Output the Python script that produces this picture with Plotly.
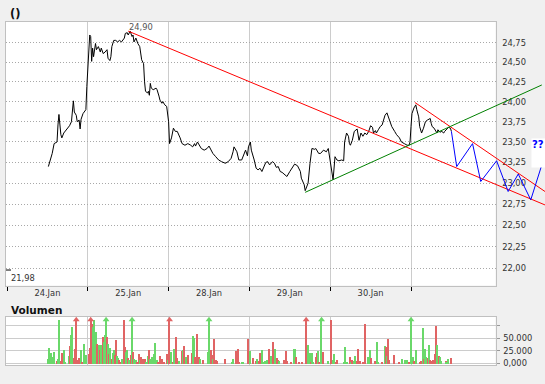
import math
import plotly.graph_objects as go

# ---------------- data ----------------
# time axis: 10-minute interval index, 84 intervals per trading day (08:00-22:00)
DAYS = ["24.Jan", "25.Jan", "28.Jan", "29.Jan", "30.Jan"]
PER_DAY = 84

price_t = [
    43, 45, 47, 49, 51, 52, 53, 54, 56, 57,
    59, 62, 65, 67, 68, 69, 70, 72, 73, 75,
    76, 77, 79, 82, 83, 84, 85, 86, 87, 88,
    89, 90, 92, 93, 95, 97, 98, 100, 102, 104,
    105, 107, 108, 109, 111, 113, 115, 117, 119, 122,
    123, 125, 126, 128, 130, 131, 132, 134, 136, 138,
    140, 142, 143, 144, 146, 147, 148, 149, 150, 152,
    155, 156, 158, 159, 161, 162, 164, 166, 168, 169,
    171, 173, 175, 177, 180, 182, 185, 188, 191, 193,
    195, 196, 198, 200, 202, 205, 208, 210, 212, 214,
    217, 220, 223, 227, 230, 233, 235, 236, 239, 241,
    244, 246, 248, 250, 251, 253, 254, 257, 259, 261,
    263, 265, 267, 269, 271, 273, 276, 278, 280, 282,
    284, 286, 289, 291, 294, 297, 299, 302, 305, 306,
    309, 310, 313, 315, 317, 320, 321, 324, 326, 329,
    332, 334, 336, 338, 339, 341, 343, 345, 348, 350,
    351, 353, 355, 356, 357, 359, 361, 364, 365, 366,
    368, 370, 372, 374, 376, 378, 380, 381, 383, 384,
    386, 388, 390, 392, 393, 395, 396, 398, 400, 403,
    405, 408, 410, 413, 416, 418, 419, 420, 421, 423,
    425, 426, 428, 429, 431, 433, 435, 437, 440, 441,
    442, 444, 446, 447, 448, 450, 452, 454, 455, 457,
    459, 461, 462,
]
price_v = [
    23.20, 23.28, 23.36, 23.48, 23.50, 23.50, 23.71, 23.84, 23.59, 23.55,
    23.61, 23.65, 23.70, 23.75, 23.94, 24.01, 23.87, 23.83, 23.75, 23.77,
    23.66, 23.78, 23.85, 23.90, 24.19, 24.40, 24.61, 24.85, 24.83, 24.51,
    24.68, 24.57, 24.74, 24.66, 24.70, 24.63, 24.68, 24.61, 24.63, 24.66,
    24.55, 24.52, 24.57, 24.70, 24.78, 24.78, 24.76, 24.78, 24.76, 24.81,
    24.87, 24.88, 24.85, 24.90, 24.83, 24.85, 24.76, 24.81, 24.74, 24.70,
    24.53, 24.48, 24.25, 24.13, 24.11, 24.13, 24.08, 24.23, 24.17, 24.15,
    24.17, 24.15, 24.07, 24.02, 23.98, 24.00, 23.96, 23.94, 23.75, 23.48,
    23.55, 23.67, 23.63, 23.63, 23.55, 23.48, 23.46, 23.48, 23.46, 23.44,
    23.48, 23.45, 23.50, 23.46, 23.42, 23.40, 23.42, 23.45, 23.40, 23.36,
    23.32, 23.28, 23.26, 23.24, 23.26, 23.30, 23.38, 23.44, 23.38, 23.28,
    23.28, 23.34, 23.40, 23.33, 23.44, 23.50, 23.40, 23.28, 23.18, 23.16,
    23.18, 23.14, 23.20, 23.25, 23.26, 23.22, 23.26, 23.24, 23.19, 23.20,
    23.14, 23.13, 23.10, 23.08, 23.14, 23.20, 23.23, 23.21, 23.14, 23.06,
    22.98, 22.91, 23.00, 23.24, 23.42, 23.41, 23.42, 23.36, 23.36, 23.40,
    23.38, 23.42, 23.26, 23.07, 23.04, 23.32, 23.28, 23.27, 23.28, 23.27,
    23.50, 23.61, 23.57, 23.48, 23.46, 23.52, 23.63, 23.66, 23.59, 23.52,
    23.61, 23.57, 23.61, 23.59, 23.63, 23.70, 23.68, 23.61, 23.64, 23.61,
    23.65, 23.69, 23.71, 23.79, 23.83, 23.86, 23.83, 23.75, 23.69, 23.63,
    23.59, 23.55, 23.50, 23.48, 23.46, 23.46, 23.50, 23.69, 23.85, 23.92,
    23.96, 23.90, 23.81, 23.69, 23.61, 23.67, 23.75, 23.77, 23.79, 23.73,
    23.69, 23.67, 23.63, 23.61, 23.65, 23.62, 23.63, 23.61, 23.63, 23.65,
    23.68, 23.67, 23.63,
]

# projected zig-zag (blue)
proj_t = [462, 467.5, 484, 492.5, 509, 521, 531.5, 544.5, 556]
proj_v = [23.63, 23.20, 23.48, 23.02, 23.27, 22.90, 23.11, 22.80, 23.22]

# trend lines
res_main_t = [126, 559.3]
res_main_v = [24.90, 22.74]
res_short_t = [424, 559.3]
res_short_v = [23.99, 22.90]
sup_t = [310, 556]
sup_v = [22.89, 24.21]

MIN_MARK = 21.98

# volume (shares), up = 1 green / 0 red
vol_t = [
    43, 44, 45, 46, 47, 49, 52, 53, 54, 56,
    57, 59, 60, 65, 66, 67, 68, 70, 71, 72,
    73, 75, 76, 77, 78, 80, 82, 85, 86, 87,
    88, 90, 91, 92, 93, 94, 95, 96, 97, 98,
    100, 101, 102, 103, 104, 105, 106, 107, 109, 110,
    111, 112, 113, 115, 116, 117, 119, 120, 122, 123,
    124, 125, 126, 127, 129, 130, 131, 132, 134, 135,
    137, 138, 139, 141, 142, 144, 145, 147, 148, 149,
    151, 153, 154, 156, 157, 159, 161, 163, 166, 168,
    169, 171, 173, 174, 176, 177, 179, 182, 183, 184,
    186, 188, 192, 194, 195, 196, 198, 199, 200, 201,
    204, 209, 210, 212, 213, 214, 215, 217, 218, 227,
    234, 235, 238, 240, 241, 244, 245, 251, 253, 256,
    259, 260, 262, 263, 265, 266, 268, 270, 272, 275,
    277, 278, 279, 281, 282, 283, 288, 290, 291, 295,
    298, 299, 300, 301, 304, 307, 311, 313, 315, 316,
    317, 318, 321, 322, 323, 325, 327, 329, 334, 337,
    339, 340, 342, 343, 350, 352, 354, 357, 358, 359,
    361, 362, 364, 365, 367, 370, 372, 375, 377, 378,
    379, 383, 385, 386, 390, 393, 394, 395, 396, 397,
    402, 408, 411, 414, 416, 418, 420, 422, 423, 425,
    429, 431, 433, 434, 435, 436, 438, 439, 440, 442,
    443, 445, 446, 447, 449, 450, 451, 456, 457, 459,
    462,
]
vol_v = [
    10000, 31300, 16700, 21300, 13300, 23300, 5300, 10000, 88700, 5300,
    21300, 28000, 3300, 14700, 34700, 56700, 73300, 12000, 30000, 120000,
    6700, 12000, 6700, 26700, 3300, 38700, 16700, 20000, 32000, 120000,
    80000, 73300, 88700, 10000, 63300, 40000, 16700, 36700, 26700, 36700,
    53300, 43300, 56700, 120000, 53300, 40000, 20000, 32000, 10000, 21300,
    26700, 16700, 46700, 14700, 12000, 6700, 3300, 10000, 86700, 33300,
    23300, 26700, 12000, 8000, 16700, 120000, 23300, 10000, 6700, 3300,
    20000, 6700, 13300, 10000, 6700, 10000, 3300, 14700, 26700, 10000,
    13300, 20000, 41300, 6700, 3300, 14700, 10000, 3300, 20000, 6700,
    120000, 23300, 3300, 30000, 53300, 12000, 4700, 25300, 26700, 34700,
    13300, 18000, 21300, 54700, 51300, 13300, 58700, 8000, 13300, 10000,
    6700, 23300, 120000, 26700, 16700, 10000, 48700, 8000, 4700, 8700,
    3300, 8700, 25300, 28700, 3300, 3300, 3300, 48700, 25300, 11300,
    4700, 8700, 4700, 21300, 26700, 2700, 4700, 6700, 28700, 15300,
    43300, 16700, 28700, 11300, 6700, 4700, 6700, 25300, 4700, 3300,
    28700, 6700, 28700, 13300, 3300, 3300, 120000, 36700, 21300, 3300,
    21300, 3300, 13300, 21300, 25300, 3300, 120000, 23300, 4700, 92000,
    8000, 18700, 3300, 8000, 3300, 33300, 3300, 13300, 3300, 6700,
    4700, 14700, 4700, 30000, 4700, 3300, 78700, 13300, 26700, 13300,
    11300, 4700, 43300, 3300, 3300, 35300, 33300, 14700, 50000, 6700,
    16700, 3300, 10000, 8000, 6700, 3300, 120000, 13300, 4700, 26700,
    3300, 4700, 71300, 10000, 30000, 13300, 11300, 36700, 6700, 4700,
    8000, 20000, 75300, 36700, 14700, 13300, 4700, 4700, 3300, 8700,
    11300,
]
vol_up = [
    1, 1, 1, 1, 1, 1, 0, 1, 1, 0,
    0, 1, 1, 1, 0, 1, 1, 0, 0, 0,
    0, 0, 0, 1, 0, 1, 1, 0, 0, 0,
    0, 1, 1, 1, 1, 0, 0, 1, 0, 1,
    0, 1, 1, 1, 0, 1, 0, 1, 0, 1,
    1, 0, 0, 1, 1, 0, 0, 1, 0, 0,
    1, 1, 0, 1, 0, 1, 0, 1, 1, 0,
    0, 1, 0, 0, 0, 0, 1, 1, 0, 1,
    1, 1, 1, 1, 0, 0, 0, 0, 0, 1,
    0, 1, 0, 1, 0, 0, 1, 0, 1, 0,
    1, 0, 0, 1, 1, 0, 0, 0, 0, 1,
    0, 1, 1, 0, 0, 1, 0, 0, 0, 0,
    1, 1, 0, 0, 0, 1, 1, 0, 1, 0,
    0, 1, 0, 0, 1, 1, 1, 1, 0, 1,
    0, 0, 1, 0, 0, 1, 0, 0, 0, 0,
    1, 1, 1, 0, 0, 0, 0, 1, 1, 0,
    1, 1, 0, 0, 1, 0, 1, 0, 1, 0,
    1, 1, 0, 0, 1, 1, 1, 0, 1, 0,
    1, 1, 0, 0, 0, 0, 0, 1, 1, 1,
    0, 0, 1, 1, 0, 1, 0, 1, 0, 0,
    0, 0, 1, 1, 1, 0, 1, 1, 0, 1,
    0, 0, 1, 0, 1, 1, 0, 1, 0, 0,
    0, 0, 0, 1, 0, 1, 1, 0, 1, 1,
    0,
]

PRICE_TICKS = [22.00, 22.25, 22.50, 22.75, 23.00, 23.25, 23.50, 23.75, 24.00, 24.25, 24.50, 24.75]
VOL_TICKS = [0, 25000, 50000, 75000]
VOL_TICK_TEXT = ["0,000", "25.000", "50.000", ""]

# ---------------- layout geometry ----------------
W, H = 545, 384
FONT = "DejaVu Sans"
GREEN_BAR = "#6ad86a"
RED_BAR = "#e06464"
BORDER = "#c0c0c0"
VGRID = "#cccccc"

T_PER_PX = PER_DAY / 80.8
PX_LEFT, PX_RIGHT, PX_EXT = 6.0, 495.5, 545.0
PX_T0 = 7.0
t_lo = (PX_LEFT - PX_T0) * T_PER_PX
t_hi = (PX_RIGHT - PX_T0) * T_PER_PX
t_ext = (PX_EXT - PX_T0) * T_PER_PX

PRICE_TOP, PRICE_BOT = 21.7, 285.5
VOL_TOP, VOL_BOT = 316.7, 365.0
LOG_RANGE = [1.33852, 1.39834]
VOL_RANGE = [-3400, 93200]
ARROW_Y = 87000


def fx(p):
    return p / W


def fy(p):
    return 1 - p / H


def de(v):
    return f"{v:.2f}".replace(".", ",")


day_bounds = [i * PER_DAY for i in range(len(DAYS) + 1)]
day_mids = [i * PER_DAY + PER_DAY / 2 for i in range(len(DAYS))]

fig = go.Figure()

# price
fig.add_trace(go.Scatter(x=price_t, y=price_v, mode="lines",
                         line=dict(color="black", width=1),
                         xaxis="x", yaxis="y", hoverinfo="skip", showlegend=False))

# trend lines + projection on the extended overlay axes
for tt, vv, col in [(res_main_t, res_main_v, "#ff0000"),
                    (res_short_t, res_short_v, "#ff0000"),
                    (sup_t, sup_v, "#008000"),
                    (proj_t, proj_v, "#0000ff")]:
    fig.add_trace(go.Scatter(x=tt, y=vv, mode="lines",
                             line=dict(color=col, width=1),
                             xaxis="x3", yaxis="y3", hoverinfo="skip", showlegend=False))

# volume bars
bar_cols = [GREEN_BAR if u else RED_BAR for u in vol_up]
bar_h = [min(v, ARROW_Y) for v in vol_v]
fig.add_trace(go.Bar(x=vol_t, y=bar_h, marker=dict(color=bar_cols, line=dict(width=0)),
                     width=1.3, xaxis="x2", yaxis="y2", hoverinfo="skip", showlegend=False))
clip_t = [t for t, v in zip(vol_t, vol_v) if v > VOL_RANGE[1]]
clip_c = [c for c, v in zip(bar_cols, vol_v) if v > VOL_RANGE[1]]
fig.add_trace(go.Scatter(x=clip_t, y=[ARROW_Y] * len(clip_t), mode="markers",
                         marker=dict(symbol="triangle-up", size=6, color=clip_c),
                         xaxis="x2", yaxis="y2", hoverinfo="skip", showlegend=False,
                         cliponaxis=False))

tickfont = dict(family=FONT, size=8.3, color="#333333")

fig.update_layout(
    width=W, height=H, autosize=False,
    margin=dict(l=0, r=0, t=0, b=0, pad=0, autoexpand=False),
    paper_bgcolor="#f0f0f0",
    plot_bgcolor="rgba(0,0,0,0)",
    showlegend=False,
    bargap=0,
    xaxis=dict(domain=[fx(PX_LEFT), fx(PX_RIGHT)], range=[t_lo, t_hi], anchor="y",
               tickmode="array", tickvals=day_mids, ticktext=DAYS, ticks="",
               showgrid=False, zeroline=False, showline=True, mirror=True,
               linecolor=BORDER, linewidth=1, tickfont=tickfont,
               minor=dict(tickmode="array", tickvals=day_bounds, ticks="outside",
                          ticklen=4, tickcolor="black", tickwidth=1,
                          showgrid=True, gridcolor=VGRID, gridwidth=1.3)),
    yaxis=dict(domain=[fy(PRICE_BOT), fy(PRICE_TOP)], type="log", range=LOG_RANGE,
               anchor="x", side="right", tickmode="array", tickvals=PRICE_TICKS,
               ticktext=[de(v) for v in PRICE_TICKS], ticks="", ticklabelstandoff=4,
               showgrid=True, gridcolor="#a8a8a8", griddash="1px,2px", gridwidth=1,
               zeroline=False, showline=True, mirror=True, linecolor=BORDER,
               linewidth=1, tickfont=tickfont),
    xaxis3=dict(domain=[fx(PX_LEFT), fx(PX_EXT)], range=[t_lo, t_ext], anchor="y3",
                visible=False),
    yaxis3=dict(domain=[fy(PRICE_BOT), fy(PRICE_TOP)], type="log", range=LOG_RANGE,
                anchor="x3", visible=False),
    xaxis2=dict(domain=[fx(PX_LEFT), fx(PX_RIGHT)], range=[t_lo, t_hi], anchor="y2",
                showticklabels=False, ticks="", showgrid=False, zeroline=False,
                showline=True, mirror=True, linecolor=BORDER, linewidth=1,
                minor=dict(tickmode="array", tickvals=day_bounds, ticks="",
                           showgrid=True, gridcolor=VGRID, gridwidth=1.3)),
    yaxis2=dict(domain=[fy(VOL_BOT), fy(VOL_TOP)], range=VOL_RANGE, anchor="x2",
                side="right", tickmode="array", tickvals=VOL_TICKS,
                ticktext=VOL_TICK_TEXT, ticks="outside", ticklen=3, tickcolor="#999999",
                ticklabelstandoff=2,
                showgrid=True, gridcolor=VGRID, gridwidth=1, zeroline=False,
                showline=True, mirror=True, linecolor=BORDER, linewidth=1,
                tickfont=tickfont),
)

# white plot backgrounds
for top, bot in [(PRICE_TOP, PRICE_BOT), (VOL_TOP, VOL_BOT)]:
    fig.add_shape(type="rect", xref="paper", yref="paper",
                  x0=fx(PX_LEFT), x1=fx(PX_RIGHT), y0=fy(bot), y1=fy(top),
                  fillcolor="white", line=dict(width=0), layer="below")

# low mark
fig.add_shape(type="line", xref="paper", yref="y",
              x0=fx(PX_LEFT), x1=fx(PX_LEFT + 5), y0=MIN_MARK, y1=MIN_MARK,
              line=dict(color="black", width=1))
fig.add_annotation(xref="paper", yref="y", x=fx(PX_LEFT + 3), y=math.log10(MIN_MARK),
                   text=de(MIN_MARK), showarrow=False, xanchor="left", yanchor="top",
                   yshift=-1, font=dict(family=FONT, size=8.3, color="#333333"))

# high label
i_max = max(range(len(price_v)), key=lambda i: price_v[i])
fig.add_annotation(xref="x", yref="y", x=price_t[i_max], y=math.log10(price_v[i_max]),
                   text=de(price_v[i_max]), showarrow=False, xanchor="left",
                   yanchor="bottom", xshift=-3, yshift=-3,
                   font=dict(family=FONT, size=8.3, color="#555555"))

# titles
fig.add_annotation(xref="paper", yref="paper", x=fx(8), y=fy(5), text="<b>()</b>",
                   showarrow=False, xanchor="left", yanchor="top",
                   font=dict(family=FONT, size=11.5, color="#111111"))
fig.add_annotation(xref="paper", yref="paper", x=fx(9), y=fy(302), text="<b>Volumen</b>",
                   showarrow=False, xanchor="left", yanchor="top",
                   font=dict(family=FONT, size=10.5, color="#111111"))

# projection label
fig.add_annotation(xref="paper", yref="paper", x=fx(531), y=fy(138), text="<b>??</b>",
                   showarrow=False, xanchor="left", yanchor="top", align="left",
                   valign="top", bgcolor="white", borderpad=0, width=13, height=28,
                   font=dict(family=FONT, size=10, color="#0000ff"))

fig.write_html("out.html", config={"displayModeBar": False},
               post_script="document.body.style.margin='0';document.body.style.overflow='hidden';")
